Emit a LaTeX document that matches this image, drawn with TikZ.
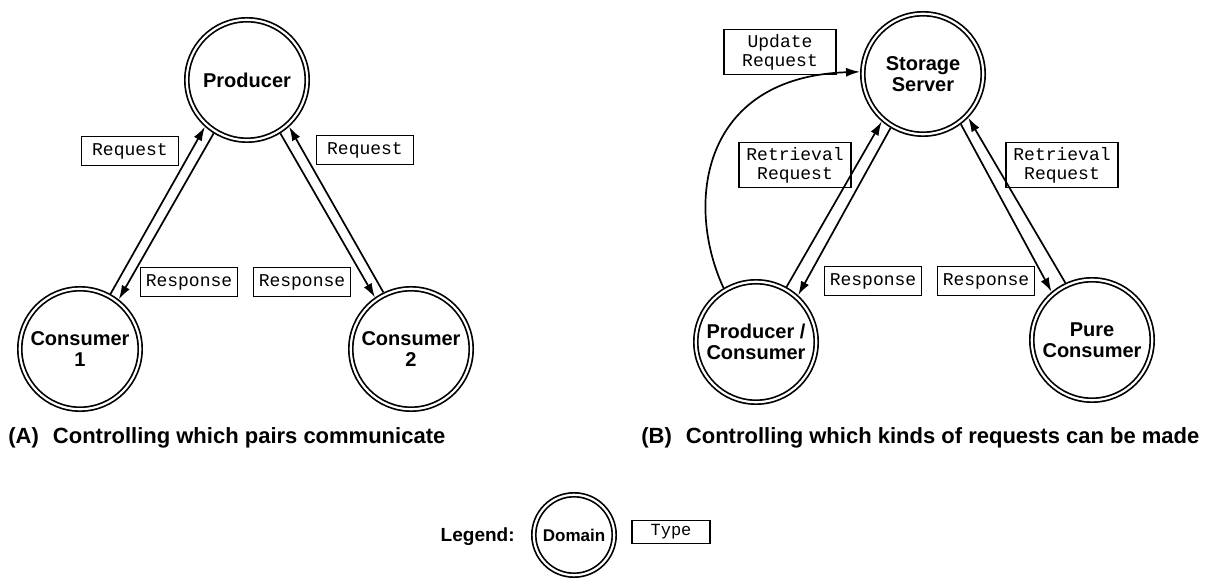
\documentclass[tikz,border=0pt]{standalone}
\usepackage{fontspec}
\setmainfont{Liberation Sans}
\setmonofont{Liberation Mono}
\usetikzlibrary{arrows.meta}
\begin{document}
\begin{tikzpicture}[x=0.5pt,y=-0.5pt,
  dom/.style={circle, draw, double, line width=0.85pt, double distance=1.1pt,
    minimum size=60.2pt, inner sep=0pt, outer sep=1.4pt,
    font=\fontsize{10}{10.5}\selectfont\bfseries, align=center},
  typ/.style={draw, line width=0.9pt, font=\fontsize{9}{9.5}\selectfont\ttfamily,
    align=center, inner sep=0pt, minimum height=14.5pt, minimum width=48.5pt},
  typ2/.style={typ, minimum height=22.5pt, minimum width=56pt},
  msg/.style={line width=0.85pt, -{Latex[length=7pt,width=4.5pt]}},
  captext/.style={font=\fontsize{11}{13}\selectfont\bfseries, anchor=west, inner sep=0pt}
]
\useasboundingbox (0,0) rectangle (1209,582);

% (A)
\node[dom] (prod) at (247,80) {Producer};
\node[dom] (c1) at (80,349) {Consumer\\1};
\node[dom] (c2) at (411,349) {Consumer\\2};
\node[typ] (rq1) at (130,151) {Request};
\node[typ] (rq2) at (365,150) {Request};
\node[typ] (rs1) at (189,282) {Response};
\node[typ] (rs2) at (302,282) {Response};
\draw[msg] (c1.61.5) -- (prod.228);
\draw[msg] (prod.238) -- (c1.52.5);
\draw[msg] (c2.116) -- (prod.312);
\draw[msg] (prod.302) -- (c2.125);
\node[captext] (capA) at (8,438) {(A)\hspace{7pt}Controlling which pairs communicate};

% (B)
\node[dom] (ss) at (923,74) {Storage\\Server};
\node[dom] (pc) at (756,342) {Producer /\\Consumer};
\node[dom] (pure) at (1092,340) {Pure\\Consumer};
\node[typ2] (ur) at (780,52) {Update\\Request};
\node[typ2] (rr1) at (795,165) {Retrieval\\Request};
\node[typ2] (rr2) at (1062,165) {Retrieval\\Request};
\node[typ] (rs3) at (873,281) {Response};
\node[typ] (rs4) at (986,281) {Response};
\draw[msg] (pc.61) -- (ss.229.5);
\draw[msg] (ss.239) -- (pc.48);
\draw[msg] (pure.115) -- (ss.316);
\draw[msg] (ss.307) -- (pure.130);
\draw[msg] (pc.121) .. controls (685,205) and (700,77) .. (ss.178);
\node[captext] (capB) at (641,438) {(B)\hspace{7pt}Controlling which kinds of requests can be made};

% Legend
\node[font=\fontsize{9.5}{10}\selectfont\bfseries, anchor=east, inner sep=0pt] (leg) at (515,537) {Legend:};
\node[dom, minimum size=40.2pt, font=\fontsize{8.5}{9}\selectfont\bfseries] (ld) at (574,535) {Domain};
\node[typ, minimum width=39pt, minimum height=11.5pt, font=\fontsize{8.5}{9}\selectfont\ttfamily] (lt) at (671,532) {Type};
\end{tikzpicture}
\end{document}
